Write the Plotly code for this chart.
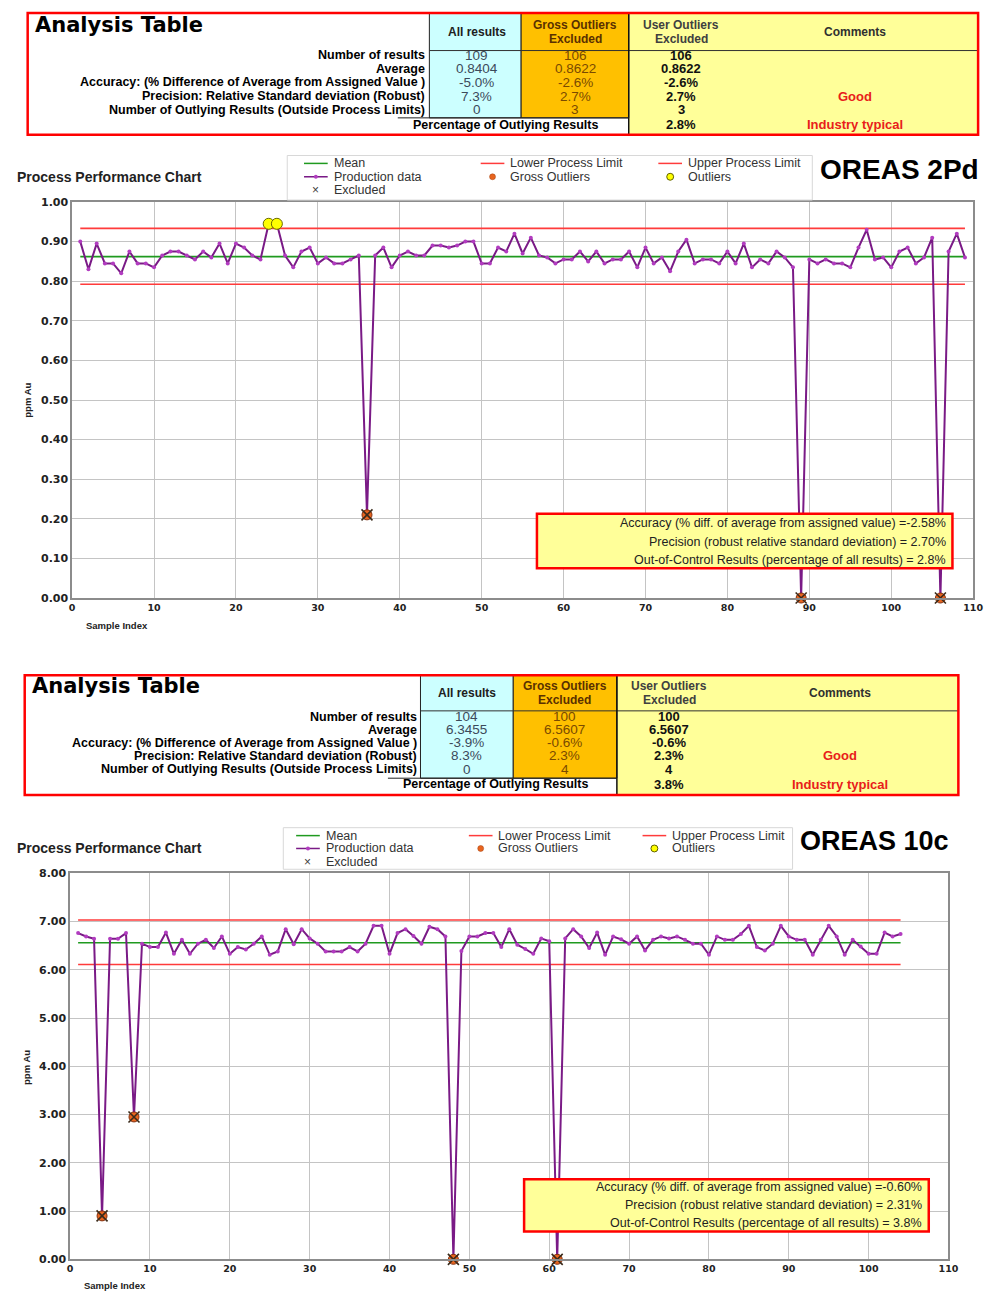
import plotly.graph_objects as go

W, H = 996, 1298

# ---------------- DATA : OREAS 2Pd ----------------
pd2_values = [0.90, 0.83, 0.895, 0.845, 0.845, 0.82, 0.875, 0.845, 0.845, 0.835,
              0.865, 0.875, 0.875, 0.865, 0.855, 0.875, 0.86, 0.895, 0.845, 0.895,
              0.885, 0.865, 0.855, 0.945, 0.945, 0.865, 0.835, 0.875, 0.885, 0.845,
              0.86, 0.845, 0.845, 0.855, 0.865, 0.21, 0.865, 0.885, 0.835, 0.865,
              0.875, 0.865, 0.865, 0.89, 0.89, 0.885, 0.89, 0.90, 0.90, 0.845,
              0.845, 0.885, 0.875, 0.92, 0.87, 0.91, 0.865, 0.86, 0.845, 0.855,
              0.855, 0.875, 0.85, 0.875, 0.845, 0.855, 0.855, 0.875, 0.835, 0.885,
              0.845, 0.86, 0.825, 0.875, 0.905, 0.845, 0.855, 0.855, 0.845, 0.875,
              0.845, 0.895, 0.835, 0.855, 0.845, 0.875, 0.86, 0.835, 0.0, 0.855,
              0.845, 0.855, 0.845, 0.845, 0.835, 0.885, 0.93, 0.855, 0.86, 0.835,
              0.875, 0.885, 0.845, 0.86, 0.91, 0.0, 0.875, 0.92, 0.86]
pd2_mean = 0.8622
pd2_lpl = 0.7925
pd2_upl = 0.9335
pd2_gross_idx = [36, 89, 106]
pd2_outlier_idx = [24, 25]

# ---------------- DATA : OREAS 10c ----------------
c10_values = [6.76, 6.69, 6.64, 0.90, 6.64, 6.64, 6.76, 2.95, 6.54, 6.47,
              6.47, 6.77, 6.33, 6.62, 6.33, 6.54, 6.62, 6.45, 6.69, 6.33,
              6.47, 6.42, 6.54, 6.69, 6.31, 6.38, 6.84, 6.53, 6.84, 6.65,
              6.54, 6.38, 6.38, 6.38, 6.47, 6.38, 6.54, 6.91, 6.91, 6.33,
              6.76, 6.84, 6.70, 6.54, 6.89, 6.84, 6.69, 0.0, 6.39, 6.69,
              6.69, 6.76, 6.76, 6.47, 6.84, 6.52, 6.43, 6.33, 6.65, 6.59,
              0.0, 6.65, 6.84, 6.69, 6.45, 6.77, 6.31, 6.69, 6.63, 6.54,
              6.69, 6.40, 6.62, 6.69, 6.65, 6.69, 6.62, 6.54, 6.54, 6.31,
              6.69, 6.62, 6.62, 6.74, 6.91, 6.47, 6.40, 6.54, 6.91, 6.69,
              6.62, 6.62, 6.31, 6.62, 6.91, 6.69, 6.31, 6.62, 6.48, 6.33,
              6.33, 6.77, 6.69, 6.74]
c10_mean = 6.5607
c10_lpl = 6.11
c10_upl = 7.03
c10_gross_idx = [4, 8, 48, 61]
c10_outlier_idx = []

# ---------------- DATA : analysis tables ----------------
row_labels = ["Number of results", "Average",
              "Accuracy: (% Difference of Average from Assigned Value )",
              "Precision: Relative Standard deviation (Robust)",
              "Number of Outlying Results (Outside Process Limits)"]
pct_label = "Percentage of Outlying Results"
col_headers = [["All results"], ["Gross Outliers", "Excluded"], ["User Outliers", "Excluded"], ["Comments"]]
comments = ["", "", "", "Good", "", "Industry typical"]

t1_all = ["109", "0.8404", "-5.0%", "7.3%", "0"]
t1_gross = ["106", "0.8622", "-2.6%", "2.7%", "3"]
t1_user = ["106", "0.8622", "-2.6%", "2.7%", "3", "2.8%"]
t1_box = ["Accuracy (% diff. of average from assigned value) =-2.58%",
          "Precision (robust relative standard deviation) = 2.70%",
          "Out-of-Control Results (percentage of all results) = 2.8%"]

t2_all = ["104", "6.3455", "-3.9%", "8.3%", "0"]
t2_gross = ["100", "6.5607", "-0.6%", "2.3%", "4"]
t2_user = ["100", "6.5607", "-0.6%", "2.3%", "4", "3.8%"]
t2_box = ["Accuracy (% diff. of average from assigned value) =-0.60%",
          "Precision (robust relative standard deviation) = 2.31%",
          "Out-of-Control Results (percentage of all results) = 3.8%"]

legend_items = [["Mean", "Lower Process Limit", "Upper Process Limit"],
                ["Production data", "Gross Outliers", "Outliers"],
                ["Excluded", None, None]]

# ---------------- colours / fonts ----------------
PURPLE = "#7a1a86"
PURPLE_M = "#b23cc0"
GREEN = "#1f9a1f"
RED = "#ff3b3b"
ORANGE_PT = "#e8641e"
YELLOW_PT = "#ffff00"
CYAN = "#ccffff"
GOLD = "#ffc000"
LYELLOW = "#ffff99"
ARIAL = "Liberation Sans"
DEJAVU = "DejaVu Sans"


def X(px):
    return px / W


def Y(py):
    return 1 - py / H


fig = go.Figure()
shapes = []
annos = []


def txt(x, y, s, size=12, color="#000", bold=False, xanchor="center", family=ARIAL, yanchor="middle", angle=0):
    annos.append(dict(x=X(x), y=Y(y), xref="paper", yref="paper", text=s, showarrow=False,
                      xanchor=xanchor, yanchor=yanchor, textangle=angle,
                      font=dict(size=size, color=color, family=family, weight="bold" if bold else "normal")))


def rect(x0, y0, x1, y1, fill=None, line="#000", lw=1):
    shapes.append(dict(type="rect", xref="paper", yref="paper", x0=X(x0), x1=X(x1), y0=Y(y1), y1=Y(y0),
                       fillcolor=fill if fill else "rgba(0,0,0,0)",
                       line=dict(color=line, width=lw), layer="above"))


def hline(x0, x1, y, color="#000", lw=1):
    shapes.append(dict(type="line", xref="paper", yref="paper", x0=X(x0), x1=X(x1), y0=Y(y), y1=Y(y),
                       line=dict(color=color, width=lw), layer="above"))


def vline(x, y0, y1, color="#000", lw=1):
    shapes.append(dict(type="line", xref="paper", yref="paper", x0=X(x), x1=X(x), y0=Y(y0), y1=Y(y1),
                       line=dict(color=color, width=lw), layer="above"))


def add_table(g, all_v, gross_v, user_v):
    # fills
    rect(g["xy"], g["y0"], g["x1"], g["y1"], fill=LYELLOW, line=LYELLOW, lw=0)
    rect(g["xc"], g["y0"], g["xo"], g["ycb"], fill=CYAN, line="#202020", lw=1)
    rect(g["xo"], g["y0"], g["xy"], g["ycb"], fill=GOLD, line="#202020", lw=1)
    hline(g["xc"], g["x1"], g["yh"], "#303030", 1)
    vline(g["xy"], g["y0"], g["y1"], "#101010", 1.5)
    hline(g["xp"], g["xy"], g["ycb"], "#202020", 1)
    rect(g["x0"], g["y0"], g["x1"], g["y1"], line="#ff0000", lw=2.5)
    # title
    txt(g["x0"] + 5, g["yt"], "Analysis Table", size=21, bold=True, xanchor="left", family=DEJAVU)
    # headers
    hy = (g["y0"] + g["yh"]) / 2
    hcols = ["#202020", "#5a3000", "#404040", "#303030"]
    for k, hdr in enumerate(col_headers):
        if len(hdr) == 1:
            txt(g["c"][k], hy, hdr[0], size=12, bold=True, color=hcols[k])
        else:
            txt(g["c"][k], hy - 7, hdr[0], size=12, bold=True, color=hcols[k])
            txt(g["c"][k], hy + 7, hdr[1], size=12, bold=True, color=hcols[k])
    rows = g["rows"]
    for i, lab in enumerate(row_labels):
        txt(g["xl"], rows[i], lab, size=12.5, bold=True, xanchor="right")
        txt(g["c"][0], rows[i], all_v[i], size=13.5, color="#3c4a5a")
        txt(g["c"][1], rows[i], gross_v[i], size=13.5, color="#7a4a00")
    for i, u in enumerate(user_v):
        txt(g["c"][2], rows[i], u, size=13, bold=True, color="#111")
    for i, cmt in enumerate(comments):
        if cmt:
            txt(g["c"][3], rows[i], cmt, size=13, bold=True, color="#e8201a")
    txt(g["xpc"], rows[5], pct_label, size=12.5, bold=True)


def add_legend(g):
    rect(g["x0"], g["y0"], g["x1"], g["y1"], fill="white", line="#d8d8d8", lw=1)
    for r, row in enumerate(legend_items):
        for c, lab in enumerate(row):
            if lab is None:
                continue
            lx = g["cols"][c]
            ly = g["rows"][r]
            sym_x = lx - 16
            if lab in ("Mean", "Lower Process Limit", "Upper Process Limit", "Production data"):
                col = {"Mean": GREEN, "Production data": PURPLE}.get(lab, RED)
                hline(lx - 28, lx - 4, ly, col, 1.5)
                if lab == "Production data":
                    shapes.append(dict(type="circle", xref="paper", yref="paper",
                                       x0=X(sym_x - 2), x1=X(sym_x + 2), y0=Y(ly + 2), y1=Y(ly - 2),
                                       fillcolor=PURPLE_M, line=dict(color=PURPLE_M, width=0), layer="above"))
            elif lab == "Gross Outliers":
                shapes.append(dict(type="circle", xref="paper", yref="paper",
                                   x0=X(sym_x - 3), x1=X(sym_x + 3), y0=Y(ly + 3), y1=Y(ly - 3),
                                   fillcolor=ORANGE_PT, line=dict(color="#a04010", width=0.5), layer="above"))
            elif lab == "Outliers":
                shapes.append(dict(type="circle", xref="paper", yref="paper",
                                   x0=X(sym_x - 3.5), x1=X(sym_x + 3.5), y0=Y(ly + 3.5), y1=Y(ly - 3.5),
                                   fillcolor=YELLOW_PT, line=dict(color="#606000", width=1), layer="above"))
            elif lab == "Excluded":
                txt(sym_x, ly, "×", size=12, color="#404040")
            txt(lx, ly, lab, size=12.5, color="#333", xanchor="left")


def add_chart(values, mean, lpl, upl, gross_idx, out_idx, xa, ya):
    idx = list(range(1, len(values) + 1))
    first, last = idx[0], idx[-1]
    for val, col in ((lpl, RED), (upl, RED), (mean, GREEN)):
        fig.add_trace(go.Scatter(x=[first, last], y=[val, val], mode="lines",
                                 line=dict(color=col, width=1.6), xaxis=xa, yaxis=ya,
                                 showlegend=False, hoverinfo="skip"))
    fig.add_trace(go.Scatter(x=idx, y=values, mode="lines+markers",
                             line=dict(color=PURPLE, width=2),
                             marker=dict(color=PURPLE_M, size=4),
                             xaxis=xa, yaxis=ya, showlegend=False, cliponaxis=False))
    gx = gross_idx
    gy = [values[i - 1] for i in gross_idx]
    fig.add_trace(go.Scatter(x=gx, y=gy, mode="markers",
                             marker=dict(color=ORANGE_PT, size=10, line=dict(color="#803010", width=1)),
                             xaxis=xa, yaxis=ya, showlegend=False, cliponaxis=False))
    fig.add_trace(go.Scatter(x=gx, y=gy, mode="markers",
                             marker=dict(symbol="x-thin", size=11, line=dict(color="#3a2a1a", width=1.6)),
                             xaxis=xa, yaxis=ya, showlegend=False, cliponaxis=False))
    if out_idx:
        fig.add_trace(go.Scatter(x=out_idx, y=[values[i - 1] for i in out_idx], mode="markers",
                                 marker=dict(color=YELLOW_PT, size=11, line=dict(color="#6a6a00", width=1)),
                                 xaxis=xa, yaxis=ya, showlegend=False, cliponaxis=False))


def add_box(g, lines):
    rect(g["x0"], g["y0"], g["x1"], g["y1"], fill=LYELLOW, line="#ff0000", lw=2.5)
    for i, s in enumerate(lines):
        txt(g["xr"], g["rows"][i], s, size=12.5, color="#222", xanchor="right")


# ---------------- TABLE 1 ----------------
add_table(dict(x0=25, x1=988, y0=7, y1=130, xc=432, xo=525, xy=634, ycb=113, yh=45,
               xp=400, xpc=510, yt=19, xl=430,
               c=[480, 580, 687, 863], rows=[50, 63.5, 77, 91, 105, 120]),
          t1_all, t1_gross, t1_user)

# ---------------- TABLE 2 ----------------
add_table(dict(x0=22, x1=968, y0=676, y1=797, xc=423, xo=517, xy=622, ycb=780, yh=712,
               xp=390, xpc=500, yt=687, xl=421,
               c=[470, 569, 675, 848], rows=[718, 731, 744, 757.5, 771, 786]),
          t2_all, t2_gross, t2_user)

# ---------------- CHARTS ----------------
add_chart(pd2_values, pd2_mean, pd2_lpl, pd2_upl, pd2_gross_idx, pd2_outlier_idx, "x", "y")
add_chart(c10_values, c10_mean, c10_lpl, c10_upl, c10_gross_idx, c10_outlier_idx, "x2", "y2")

add_legend(dict(x0=288, y0=151, x1=820, y1=196, cols=[333, 512, 692], rows=[159, 172.5, 186]))
add_legend(dict(x0=284, y0=830, x1=800, y1=872, cols=[325, 500, 676], rows=[838, 851, 864.5]))

txt(12, 173, "Process Performance Chart", size=14, bold=True, xanchor="left", color="#222")
txt(12, 851, "Process Performance Chart", size=14, bold=True, xanchor="left", color="#222")
txt(826, 165, "OREAS 2Pd", size=28, bold=True, xanchor="left")
txt(806, 843, "OREAS 10c", size=27, bold=True, xanchor="left")

txt(82, 626, "Sample Index", size=9.5, bold=True, xanchor="left", color="#222")
txt(80, 1292, "Sample Index", size=9.5, bold=True, xanchor="left", color="#222")
txt(24, 398, "ppm Au", size=9.5, bold=True, angle=-90, color="#222")
txt(24, 1072, "ppm Au", size=9.5, bold=True, angle=-90, color="#222")

add_box(dict(x0=541, y0=513, x1=962, y1=568, xr=957, rows=[522, 541, 559.5]), t1_box)
add_box(dict(x0=528, y0=1185, x1=938, y1=1238, xr=933, rows=[1193, 1211, 1229]), t2_box)

axis_common = dict(showgrid=True, gridcolor="#c4c4c4", gridwidth=1, showline=True, mirror=True,
                   linecolor="#8c8c8c", linewidth=1.5, zeroline=False, ticks="")
xfont = dict(family=DEJAVU, size=9.5, color="#222", weight="bold")
yfont = dict(family=DEJAVU, size=11, color="#222", weight="bold")

fig.update_layout(
    width=W, height=H, margin=dict(l=0, r=0, t=0, b=0),
    paper_bgcolor="white", plot_bgcolor="white", showlegend=False, hovermode=False,
    xaxis=dict(domain=[X(70), X(983)], range=[0, 110], dtick=10, tick0=0, anchor="y",
               tickfont=xfont, **axis_common),
    yaxis=dict(domain=[Y(598), Y(198)], range=[0, 1.0], dtick=0.1, tickformat=".2f", anchor="x",
               tickfont=yfont, **axis_common),
    xaxis2=dict(domain=[X(68), X(958)], range=[0, 110], dtick=10, tick0=0, anchor="y2",
                tickfont=xfont, **axis_common),
    yaxis2=dict(domain=[Y(1266), Y(876)], range=[0, 8], dtick=1, tickformat=".2f", anchor="x2",
                tickfont=yfont, **axis_common),
    shapes=shapes, annotations=annos,
)

fig.write_html("out.html")
